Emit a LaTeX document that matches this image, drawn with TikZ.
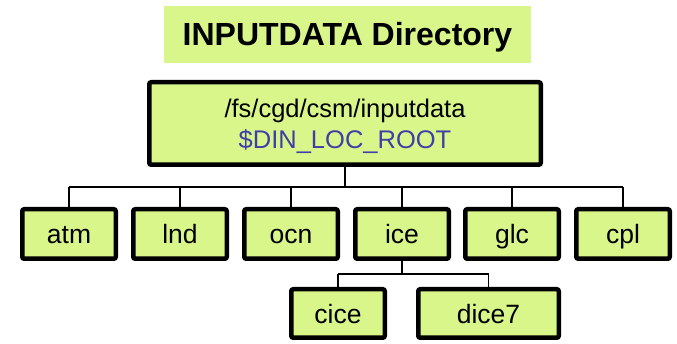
\documentclass[tikz,border=0pt]{standalone}
\usepackage{fontspec}
\setmainfont{Liberation Sans}
\definecolor{leaf}{HTML}{D9F68B}
\definecolor{dinblue}{HTML}{3F3FA8}
\begin{document}
\begin{tikzpicture}[x=1pt,y=-1pt,
  box/.style={draw=black, fill=leaf, line width=4.5pt, rounded corners=2pt,
    inner sep=0pt, font=\fontsize{26.5}{30}\selectfont},
  dirbox/.style={box, minimum width=93.5pt, minimum height=49.5pt,
    text height=20pt, text depth=0pt},
  link/.style={line width=1.5pt}]
\useasboundingbox (0,0) rectangle (677,344);

% heading
\node[fill=leaf, minimum width=367pt, minimum height=57pt, inner sep=0pt,
  text height=23pt, text depth=0pt,
  font=\bfseries\fontsize{32}{36}\selectfont] (title) at (347.5,34.5) {INPUTDATA Directory};

% root directory
\node[box, minimum width=391.5pt, minimum height=82.5pt, align=center,
  text depth=0pt, font=\fontsize{25.5}{31}\selectfont] (root) at (345,123.5)
  {/fs/cgd/csm/inputdata\\\textcolor{dinblue}{\$DIN\_LOC\_ROOT}};

% component directories
\node[dirbox] (atm) at (69,234) {atm};
\node[dirbox] (lnd) at (180,234) {lnd};
\node[dirbox] (ocn) at (291,234) {ocn};
\node[dirbox] (ice) at (402,234) {ice};
\node[dirbox] (glc) at (512,234) {glc};
\node[dirbox] (cpl) at (623,234) {cpl};

% ice subdirectories
\node[dirbox, minimum height=48.5pt] (cice) at (338,313.5) {cice};
\node[dirbox, minimum width=140.5pt, minimum height=48.5pt] (dice7) at (488.5,313.5) {dice7};

% tree connectors
\coordinate (bus) at (0,187);
\coordinate (subbus) at (0,274);
\draw[link] (root.south) -- (root.south |- bus);
\draw[link] (atm.north |- bus) -- (cpl.north |- bus);
\foreach \d in {atm,lnd,ocn,ice,glc,cpl}
  \draw[link] (\d.north) -- (\d.north |- bus);
\draw[link] (ice.south) -- (ice.south |- subbus);
\draw[link] (cice.north |- subbus) -- (dice7.north |- subbus);
\foreach \d in {cice,dice7}
  \draw[link] (\d.north) -- (\d.north |- subbus);
\end{tikzpicture}
\end{document}
